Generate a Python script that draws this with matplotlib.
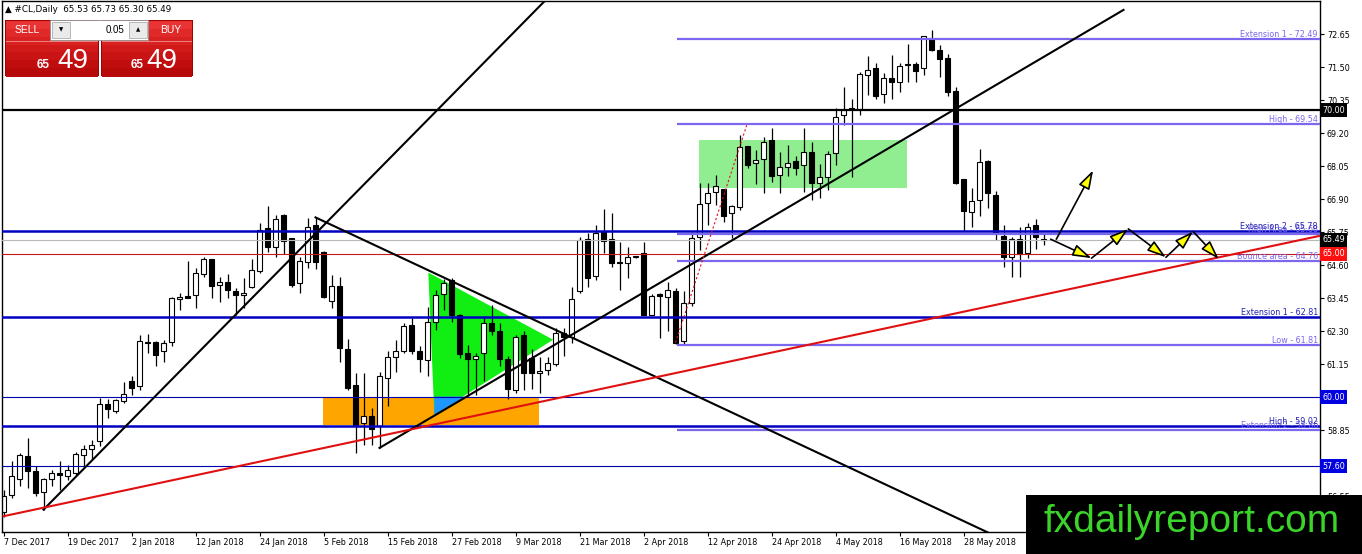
import numpy as np
import matplotlib
matplotlib.use("Agg")
import matplotlib.pyplot as plt
from matplotlib.patches import Rectangle, Polygon
from matplotlib.transforms import blended_transform_factory

plt.rcParams['font.family'] = ['DejaVu Sans']

# ---- values (bar index = trading day from 7 Dec 2017) ----
date_labels = ['7 Dec 2017', '19 Dec 2017', '2 Jan 2018', '12 Jan 2018', '24 Jan 2018',
               '5 Feb 2018', '15 Feb 2018', '27 Feb 2018', '9 Mar 2018', '21 Mar 2018',
               '2 Apr 2018', '12 Apr 2018', '24 Apr 2018', '4 May 2018', '16 May 2018',
               '28 May 2018']
date_idx = list(range(0, 121, 8))

opens = [56.02, 56.61, 57.17, 57.97, 57.43, 56.70, 57.16, 57.37, 57.25, 57.37,
         58.01, 58.20, 58.47, 59.78, 59.51, 59.86, 60.58, 60.38, 61.94, 61.92,
         61.60, 61.92, 63.42, 63.54, 63.57, 64.30, 64.81, 63.92, 64.03, 63.72,
         63.56, 63.84, 64.42, 65.89, 65.23, 66.35, 65.54, 63.98, 64.73, 66.01,
         65.08, 63.37, 63.88, 61.68, 60.44, 59.11, 59.36, 58.99, 60.68, 61.41,
         61.60, 62.52, 61.60, 61.31, 62.61, 63.61, 64.10, 62.88, 61.54, 61.33,
         61.54, 62.59, 62.33, 61.33, 60.27, 62.18, 61.37, 60.85, 60.94, 61.17,
         62.24, 62.12, 63.69, 65.51, 64.23, 65.81, 65.51, 64.70, 64.67, 64.88,
         65.04, 62.88, 63.60, 63.51, 63.72, 61.98, 63.28, 65.58, 66.76, 67.17,
         67.25, 66.41, 66.64, 68.75, 68.15, 68.29, 68.96, 67.75, 68.01, 68.24,
         68.09, 68.56, 67.46, 67.67, 68.50, 69.83, 70.07, 70.03, 71.22, 71.46,
         70.56, 71.14, 70.99, 71.57, 71.61, 71.46, 72.50, 72.12, 71.84, 70.68,
         67.60, 66.47, 66.88, 68.24, 67.05, 65.62, 64.90, 65.51, 65.04, 65.99,
         65.53]
highs = [56.79, 57.77, 58.06, 58.59, 57.60, 57.20, 57.48, 57.80, 57.63, 58.10,
         58.35, 58.50, 59.98, 59.93, 59.95, 60.52, 60.75, 62.18, 62.21, 61.95,
         61.99, 63.50, 63.65, 64.75, 64.50, 64.89, 64.83, 64.19, 64.30, 63.80,
         64.15, 64.81, 66.07, 66.67, 66.35, 66.40, 65.56, 64.90, 66.24, 66.30,
         65.10, 64.27, 64.19, 62.03, 60.85, 60.85, 59.64, 60.87, 61.60, 62.01,
         62.59, 62.76, 61.80, 63.14, 63.75, 64.12, 64.15, 62.90, 61.83, 61.55,
         62.82, 63.22, 62.60, 61.45, 62.18, 62.33, 61.70, 61.40, 61.40, 62.40,
         62.40, 63.84, 65.60, 65.72, 66.01, 66.55, 66.41, 65.40, 65.25, 64.90,
         65.43, 63.60, 63.65, 64.03, 63.80, 63.70, 65.77, 67.46, 67.46, 67.75,
         67.27, 66.69, 69.14, 68.77, 68.62, 69.08, 69.37, 68.56, 68.79, 68.40,
         69.37, 68.90, 68.13, 68.60, 70.07, 70.82, 70.38, 71.34, 71.88, 71.65,
         71.30, 71.92, 71.65, 72.30, 71.70, 72.60, 72.81, 72.27, 71.95, 70.82,
         67.62, 67.28, 68.64, 68.26, 67.20, 66.01, 65.60, 65.95, 66.07, 66.20,
         65.73]
lows = [55.85, 56.51, 56.90, 56.85, 56.56, 56.09, 56.90, 56.79, 57.12, 57.30,
        57.60, 57.83, 58.30, 59.28, 59.45, 59.79, 60.09, 60.27, 61.54, 61.08,
        61.22, 61.78, 63.05, 63.46, 63.11, 64.20, 63.46, 63.34, 63.47, 62.88,
        63.10, 63.80, 64.33, 65.08, 64.90, 64.98, 63.86, 63.65, 64.50, 64.47,
        63.47, 63.11, 61.25, 60.27, 58.07, 58.35, 58.35, 58.24, 59.69, 60.90,
        61.54, 61.50, 60.90, 60.73, 62.35, 63.05, 62.61, 61.37, 60.04, 60.10,
        60.56, 62.18, 61.08, 59.95, 60.15, 60.27, 60.30, 60.15, 60.78, 61.10,
        61.43, 61.90, 63.65, 63.86, 64.10, 65.04, 64.56, 63.75, 64.15, 64.86,
        62.86, 62.86, 62.07, 62.30, 61.87, 61.87, 63.20, 65.14, 66.01, 66.70,
        66.12, 65.54, 66.53, 67.98, 67.43, 67.13, 67.51, 67.11, 67.71, 67.75,
        67.17, 66.88, 66.94, 67.22, 68.09, 69.49, 67.69, 69.83, 70.53, 70.41,
        70.26, 70.41, 70.64, 70.99, 70.99, 71.22, 72.07, 71.16, 70.50, 67.43,
        65.81, 65.93, 66.32, 66.59, 65.49, 64.56, 64.21, 64.21, 64.85, 65.16,
        65.30]
closes = [56.55, 57.25, 58.01, 57.43, 56.67, 57.16, 57.37, 57.30, 57.48, 58.04,
          58.20, 58.35, 59.78, 59.60, 59.90, 60.12, 60.33, 61.95, 61.89, 61.48,
          61.89, 63.46, 63.49, 63.47, 64.33, 64.81, 63.88, 64.03, 63.75, 63.57,
          63.63, 64.44, 65.83, 65.23, 66.20, 65.46, 63.92, 64.75, 65.95, 64.73,
          63.49, 63.88, 61.72, 60.33, 59.05, 59.34, 58.90, 60.75, 61.41, 61.60,
          62.49, 61.63, 61.33, 62.64, 63.57, 63.98, 62.88, 61.52, 61.33, 61.45,
          62.59, 62.33, 61.33, 60.30, 62.10, 60.85, 60.85, 60.91, 61.20, 62.26,
          62.12, 63.42, 65.48, 64.15, 65.72, 65.46, 64.67, 64.68, 64.90, 64.88,
          62.88, 63.54, 63.54, 63.75, 61.91, 63.28, 65.54, 66.74, 67.13, 67.36,
          66.32, 66.67, 68.73, 68.09, 68.27, 68.90, 67.71, 68.03, 68.15, 67.98,
          68.56, 67.48, 67.69, 68.48, 69.77, 70.01, 70.03, 71.26, 71.40, 70.49,
          71.14, 70.99, 71.54, 71.61, 71.37, 72.58, 72.09, 71.80, 70.64, 67.46,
          66.50, 66.85, 68.21, 67.11, 65.77, 64.88, 65.51, 65.00, 65.93, 65.58,
          65.49]

# scale labels that show (60.00 and 57.70 sit under the price tags)
price_ticks = [72.65, 71.50, 70.35, 69.20, 68.05, 66.90, 65.75, 64.60, 63.45,
               62.30, 61.15, 58.85, 56.55]

# full width levels
blue_thick = [65.78, 62.81, 59.02]
blue_thin = [60.00, 57.60]
black_level = 70.00
red_level = 65.00
bid_level = 65.49
blue_notes = [('Extension 2 - 65.78', 65.78), ('Extension 1 - 62.81', 62.81),
              ('High - 59.02', 59.02)]

# fibonacci levels drawn from the 2 Apr low
fib_start = 84.2
fib_levels = [72.49, 69.54, 65.68, 64.76, 61.81, 58.86]
fib_notes = ['Extension 1 - 72.49', 'High - 69.54', 'High Area - 65.68',
             'Bounce area - 64.76', 'Low - 61.81', 'Extension 2 - 58.86']

# trend lines (bar index, price)
trend_black = [((5, 56.09), (68.5, 74.05)),
               ((39, 66.27), (123, 55.30)),
               ((47, 58.24), (140, 73.50))]
trend_red = ((0, 55.86), (164.56, 65.63))
dotted_red = ((84, 61.91), (92.9, 69.48))

# shaded zones
orange_box = (39.98, 66.9, 59.04, 60.03)
green_box = (86.97, 112.9, 67.28, 68.96)
green_tri = [(53.1, 64.35), (53.85, 59.40), (68.7, 62.01)]
blue_tri = [(53.85, 60.03), (53.85, 59.40), (57.7, 60.03)]

# projected path arrows
up_arrow = ((131.6, 65.51), (136.2, 67.91))
zigzag = [(130.9, 65.51), (136.0, 64.85), (140.6, 65.87), (145.3, 64.88),
          (148.7, 65.78), (151.9, 64.82)]

# ---- figure ----
W, H = 1362, 554
fig = plt.figure(figsize=(W / 100, H / 100), dpi=100)
ax = fig.add_axes([2 / W, 22 / H, 1318 / W, 531 / H])
XMAX = 164.56
ax.set_xlim(-0.19, XMAX)
ax.set_ylim(55.31, 73.81)

# zones behind the bars
ax.add_patch(Rectangle((orange_box[0], orange_box[2]), orange_box[1] - orange_box[0],
                       orange_box[3] - orange_box[2], fc='#FFA500', ec='none', zorder=1))
ax.add_patch(Polygon(green_tri, closed=True, fc='#11EE11', ec='none', zorder=1.1))
ax.add_patch(Polygon(blue_tri, closed=True, fc='#1E96FF', ec='none', zorder=1.2))
ax.add_patch(Rectangle((green_box[0], green_box[2]), green_box[1] - green_box[0],
                       green_box[3] - green_box[2], fc='#90EE90', ec='none', zorder=1))

# candles
o = np.array(opens); h = np.array(highs); l = np.array(lows); c = np.array(closes)
idx = np.arange(len(o))
up = c >= o
lo = np.minimum(o, c)
hi = np.maximum(o, c)
ax.vlines(idx, l, h, color='black', lw=0.9, zorder=2)
ax.bar(idx, np.maximum(hi - lo, 0.03), bottom=lo, width=0.62,
       color=np.where(up, 'white', 'black'), edgecolor='black', lw=0.8, zorder=2.1)

# horizontal levels
ax.axhline(black_level, color='black', lw=1.6, zorder=3)
for p in blue_thick:
    ax.axhline(p, color='#0000C0', lw=1.8, zorder=3)
for p in blue_thin:
    ax.axhline(p, color='#0000B0', lw=0.8, zorder=3)
ax.axhline(bid_level, color='#B8B8B8', lw=0.8, zorder=3)
ax.axhline(red_level, color='#C81818', lw=0.8, zorder=3)
ax.hlines(fib_levels, fib_start, XMAX, color='#7B68EE', lw=1.6, zorder=3)

xr = 164.3
for txt, p in zip(fib_notes, fib_levels):
    ax.text(xr, p, txt, color='#7B68EE', fontsize=5.8, ha='right', va='bottom', zorder=4)
for txt, p in blue_notes:
    ax.text(xr, p, txt, color='#2424B4', fontsize=5.8, ha='right', va='bottom', zorder=4.1)

# trend lines
for (x0, y0), (x1, y1) in trend_black:
    ax.plot([x0, x1], [y0, y1], color='black', lw=1.5, zorder=5)
ax.plot([trend_red[0][0], trend_red[1][0]], [trend_red[0][1], trend_red[1][1]],
        color='#E01010', lw=1.5, zorder=5)
ax.plot([dotted_red[0][0], dotted_red[1][0]], [dotted_red[0][1], dotted_red[1][1]],
        color='#E01010', lw=0.8, ls=(0, (2, 2)), zorder=5)

# arrows
aprops = dict(arrowstyle='-|>,head_length=0.95,head_width=0.3', mutation_scale=12,
              fc='#FFFF00', ec='black', lw=1.2, shrinkA=0, shrinkB=0)
ax.annotate('', xy=up_arrow[1], xytext=up_arrow[0], arrowprops=aprops, zorder=6)
for a, b in zip(zigzag[:-1], zigzag[1:]):
    ax.annotate('', xy=b, xytext=a, arrowprops=aprops, zorder=6)

# axes styling
for s in ax.spines.values():
    s.set_color('black')
    s.set_linewidth(1.0)
ax.yaxis.tick_right()
ax.set_yticks(price_ticks)
ax.set_yticklabels([f'{p:.2f}' for p in price_ticks])
ax.tick_params(axis='y', direction='out', length=3, width=0.8, pad=2, labelsize=5.8)
ax.set_xticks(date_idx)
ax.set_xticklabels(date_labels, ha='left')
ax.tick_params(axis='x', direction='out', length=3, width=0.8, pad=1.5, labelsize=5.8)

# price tags on the right scale
tr = blended_transform_factory(ax.transAxes, ax.transData)
for p, bg in [(70.00, 'black'), (bid_level, 'black'), (red_level, '#FF1010'),
              (60.00, '#0000E0'), (57.60, '#0000E0')]:
    ax.text(1.0016, p, f'{p:.2f}', transform=tr, color='white', fontsize=5.8,
            ha='left', va='center', clip_on=False, zorder=7,
            bbox=dict(boxstyle='square,pad=0.3', fc=bg, ec='none'))

# ---- header and trade panel ----
def frect(x0, y0, x1, y1, **kw):
    fig.patches.append(Rectangle((x0 / W, 1 - y1 / H), (x1 - x0) / W, (y1 - y0) / H,
                                 transform=fig.transFigure, zorder=10, **kw))

def ftext(x, y, s, **kw):
    fig.text(x / W, 1 - y / H, s, zorder=11, **kw)

ftext(5, 10, '\u25B2 #CL,Daily  65.53 65.73 65.30 65.49', fontsize=6.3, va='center')

reds = ['#E83434', '#E02A2A', '#D82222', '#D01A1A', '#C81414', '#C00E0E', '#B80A0A']
for bx0, bx1 in [(5, 99), (101, 193)]:
    frect(bx0, 20, bx1, 76, fc='#A00000', ec='none')
    step = 55 / len(reds)
    for k, col in enumerate(reds):
        frect(bx0 + 1, 21 + k * step, bx1 - 1, 21 + (k + 1) * step + 0.5, fc=col, ec='none')
frect(6, 41, 98, 42, fc='#F08080', ec='none')
frect(102, 41, 192, 42, fc='#F08080', ec='none')
frect(50, 20, 148, 40, fc='white', ec='#909090', lw=0.6)
frect(52, 22, 70, 38, fc='#EAEAEA', ec='#A0A0A0', lw=0.5)
frect(129, 22, 147, 38, fc='#EAEAEA', ec='#A0A0A0', lw=0.5)
ftext(61, 30, '\u25BC', fontsize=4, ha='center', va='center')
ftext(138, 30, '\u25B2', fontsize=4, ha='center', va='center')
ftext(124, 30, '0.05', fontsize=7, ha='right', va='center', family=['Liberation Sans'])
ftext(27, 30, 'SELL', fontsize=7.5, color='white', ha='center', va='center',
      family=['Liberation Sans'])
ftext(171, 30, 'BUY', fontsize=7.5, color='white', ha='center', va='center',
      family=['Liberation Sans'])
for sx, bx in [(50, 57), (144, 146)]:
    ftext(sx, 68, '65', fontsize=8.5, fontweight='bold', color='white', ha='right',
          va='baseline', family=['Liberation Sans'])
    ftext(bx, 68, '49', fontsize=20, color='white', ha='left', va='baseline',
          family=['Liberation Sans'])

# watermark
frect(1026, 495, 1362, 554, fc='black', ec='none')
ftext(1043, 522, 'fxdailyreport.com', fontsize=28, color='#3BD42A', ha='left',
      va='center', family=['Liberation Sans'])

fig.savefig('out.png', dpi=100)
